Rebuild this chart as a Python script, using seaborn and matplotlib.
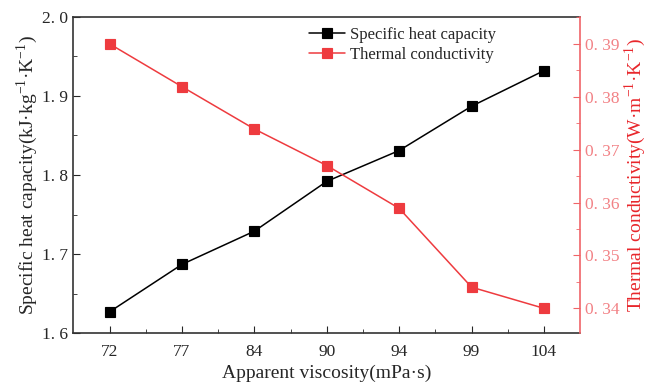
import pandas as pd
import matplotlib
matplotlib.use('Agg')
import matplotlib.pyplot as plt
import seaborn as sns
from matplotlib.ticker import FixedLocator, MultipleLocator

# data
viscosity = ['72', '77', '84', '90', '94', '99', '104']
heat_capacity = [1.627, 1.687, 1.729, 1.792, 1.831, 1.887, 1.932]
conductivity = [0.390, 0.3819, 0.3739, 0.3670, 0.3589, 0.3440, 0.3400]

left_ticks = [1.6, 1.7, 1.8, 1.9, 2.0]
left_labels = ['1. 6', '1. 7', '1. 8', '1. 9', '2. 0']
right_ticks = [0.34, 0.35, 0.36, 0.37, 0.38, 0.39]
right_labels = ['0. 34', '0. 35', '0. 36', '0. 37', '0. 38', '0. 39']

df = pd.DataFrame({'viscosity': viscosity, 'cp': heat_capacity, 'k': conductivity})

sns.set_style('ticks')
plt.rcParams['font.family'] = ['Liberation Serif', 'DejaVu Serif']
red = '#EE3B3F'

fig, ax = plt.subplots(figsize=(6.49, 3.92), dpi=100)
fig.subplots_adjust(left=0.113, right=0.894, top=0.957, bottom=0.15)
ax2 = ax.twinx()

sns.pointplot(data=df, x='viscosity', y='cp', color='black', markers='s',
              errorbar=None, markersize=7, linewidth=1.1, ax=ax)
sns.pointplot(data=df, x='viscosity', y='k', color=red, markers='s',
              errorbar=None, markersize=7, linewidth=1.1, ax=ax2)

ax.set_xlim(-0.5, 6.5)
ax.set_ylim(1.6, 2.0)
ax2.set_ylim(0.3353, 0.3951)

ax.set_yticks(left_ticks)
ax.set_yticklabels(left_labels)
ax.yaxis.set_minor_locator(MultipleLocator(0.05))
ax2.set_yticks(right_ticks)
ax2.set_yticklabels(right_labels)
ax2.yaxis.set_minor_locator(MultipleLocator(0.005))
ax.xaxis.set_minor_locator(FixedLocator([i + 0.5 for i in range(6)]))

ax.tick_params(axis='both', which='both', direction='in', labelsize=12.5)
ax.tick_params(which='major', length=5)
ax.tick_params(which='minor', length=3)
ax.tick_params(axis='x', pad=8)
ax2.tick_params(axis='y', which='both', direction='in', colors='#F06468',
                labelcolor='#F28286', labelsize=12.5)
ax2.tick_params(which='major', length=5)
ax2.tick_params(which='minor', length=3)

for s in ['left', 'bottom', 'top']:
    ax2.spines[s].set_visible(False)
ax2.spines['right'].set_color('#F06468')
ax2.spines['right'].set_linewidth(1.2)
for s in ['left', 'bottom', 'top']:
    ax.spines[s].set_color('#333333')
    ax.spines[s].set_linewidth(1.2)
ax.spines['right'].set_visible(False)

ax.set_xlabel('Apparent viscosity(mPa·s)', fontsize=14, labelpad=3)
ax.set_ylabel('Specific heat capacity(kJ·kg$^{\\mathregular{-1}}$·K$^{\\mathregular{-1}}$)',
              fontsize=14, labelpad=2)
ax2.set_ylabel('Thermal conductivity(W·m$^{\\mathregular{-1}}$·K$^{\\mathregular{-1}}$)',
               fontsize=14, color='#E8262B', labelpad=2)

handles = [ax.lines[0], ax2.lines[0]]
ax.legend(handles, ['Specific heat capacity', 'Thermal conductivity'],
          loc='upper left', bbox_to_anchor=(0.435, 1.015), frameon=False,
          fontsize=12, handlelength=2.2, handletextpad=0.3, labelspacing=0.25)

fig.savefig('out.png', dpi=100)
